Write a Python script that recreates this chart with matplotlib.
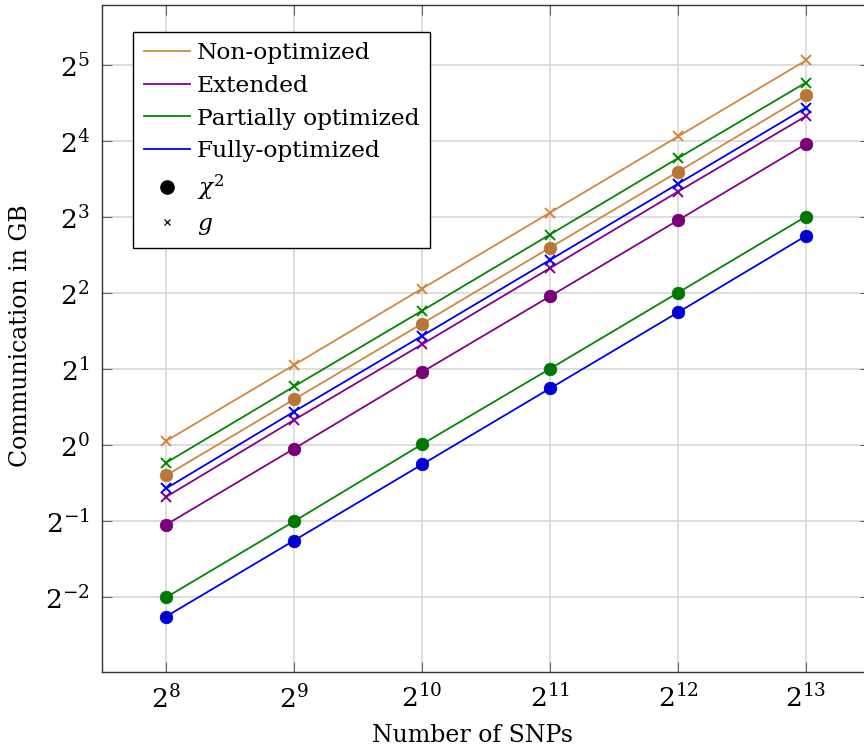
import matplotlib
matplotlib.use("Agg")
import matplotlib.pyplot as plt
from matplotlib.lines import Line2D
import numpy as np

plt.rcParams['font.family'] = ['DejaVu Serif']
plt.rcParams['mathtext.fontset'] = 'dejavuserif'

snps = [256, 512, 1024, 2048, 4096, 8192]
xticks_exp = [8, 9, 10, 11, 12, 13]
yticks_exp = [-2, -1, 0, 1, 2, 3, 4, 5]

# communication in GB
nonopt_chi2 = [0.76, 1.52, 3.03, 6.06, 12.1, 24.3]
nonopt_g = [1.04, 2.08, 4.17, 8.34, 16.7, 33.4]
ext_chi2 = [0.485, 0.97, 1.95, 3.89, 7.78, 15.6]
ext_g = [0.625, 1.26, 2.51, 5.03, 10.1, 20.1]
part_chi2 = [0.25, 0.50, 1.01, 2.01, 4.02, 8.05]
part_g = [0.853, 1.71, 3.41, 6.83, 13.7, 27.3]
full_chi2 = [0.21, 0.42, 0.84, 1.68, 3.36, 6.75]
full_g = [0.675, 1.36, 2.71, 5.42, 10.85, 21.7]

series = [
    ("Non-optimized", "#D0873E", nonopt_chi2, nonopt_g),
    ("Extended", "#880088", ext_chi2, ext_g),
    ("Partially optimized", "#008800", part_chi2, part_g),
    ("Fully-optimized", "#0000F0", full_chi2, full_g),
]

fig = plt.figure(figsize=(8.64, 7.53), dpi=100)
ax = fig.add_axes([102/864, 81/753, 768/864, 667/753])

for name, col, chi2, g in series:
    rgb = np.array(matplotlib.colors.to_rgb(col)) * 0.88
    ax.plot(snps, chi2, color=col, lw=1.3, marker='o', ms=9,
            mfc=rgb, mec=rgb, mew=0.6, zorder=3)
    ax.plot(snps, g, color=col, lw=1.3, marker='x', ms=6.5, mew=1.4, zorder=3)

ax.set_xscale('log', base=2)
ax.set_yscale('log', base=2)
ax.set_xlim(2**7.5, 2**13.5)
ax.set_ylim(2**-2.98, 2**5.79)
ax.set_xticks([2.0**e for e in xticks_exp])
ax.set_xticklabels([r'$2^{%d}$' % e for e in xticks_exp])
ax.set_yticks([2.0**e for e in yticks_exp])
ax.set_yticklabels([r'$2^{%d}$' % e for e in yticks_exp])
ax.minorticks_off()
ax.tick_params(direction='in', length=7, width=0.8, color='#666666',
               labelsize=19, top=True, right=True, pad=9)
ax.grid(True, color='#d4d4d4', lw=1.1)
ax.set_axisbelow(True)
for s in ax.spines.values():
    s.set_color('#333333')
    s.set_linewidth(1.0)

ax.set_xlabel('Number of SNPs', fontsize=17)
ax.set_ylabel('Communication in GB', fontsize=17)
ax.xaxis.set_label_coords((472 - 102) / 768, -(724 - 672) / 667)
ax.yaxis.set_label_coords(-(102 - 32) / 768, 0.505)

handles = [Line2D([], [], color=c, lw=1.3) for _, c, _, _ in series]
handles.append(Line2D([], [], color='black', marker='o', ls='none', ms=9.5))
handles.append(Line2D([], [], color='black', marker='x', ls='none', ms=5, mew=0.9))
labels = [s[0] for s in series] + [r'$\chi^2$', r'$g$']
leg = ax.legend(handles, labels, loc='upper left', bbox_to_anchor=(31/768, 1 - 27/667),
                fontsize=16.8, frameon=True, fancybox=False, edgecolor='black',
                framealpha=1, handlelength=2.0, handletextpad=0.3,
                labelspacing=0.45, borderpad=0.45, borderaxespad=0)
leg.get_frame().set_linewidth(1.0)

fig.savefig('out.png', dpi=100)
